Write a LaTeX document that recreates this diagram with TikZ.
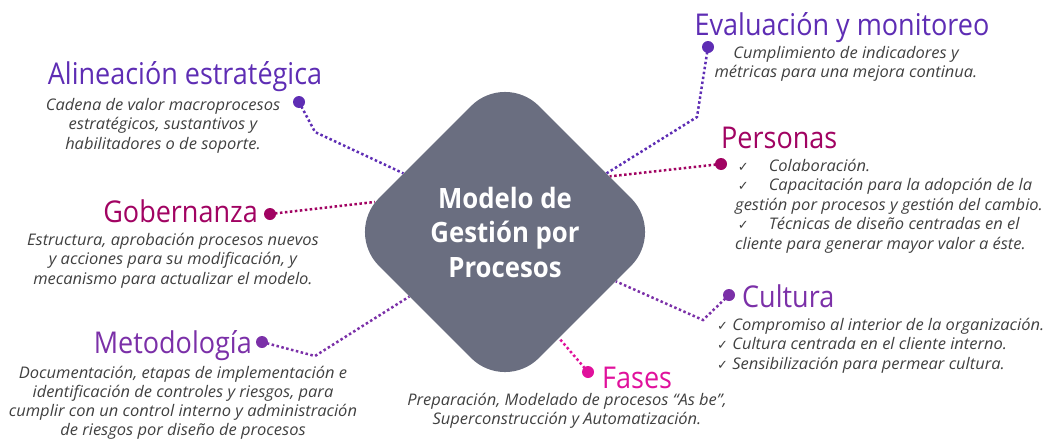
\documentclass[tikz,border=0pt]{standalone}
\usepackage{fontspec}
\usetikzlibrary{shapes.geometric}
\setmainfont{Open Sans}
\newfontfamily\titlefont[FakeStretch=0.9]{Open Sans}
\newfontfamily\descfont[FakeStretch=1.03]{Open Sans}
\newfontfamily\ctrfont[FakeStretch=0.92]{Open Sans}
\newfontfamily\ckfont{DejaVu Sans}
\definecolor{cviolet}{HTML}{5E2DB4}
\definecolor{ccrimson}{HTML}{A10362}
\definecolor{cpurple}{HTML}{7B30A8}
\definecolor{cpink}{HTML}{E0119C}
\definecolor{cgray}{HTML}{6A6E80}
\definecolor{cdesc}{HTML}{404040}
\newcommand\fl{\rule{0pt}{13pt}}
\newcommand\ck{{\ckfont\upshape\fontsize{13}{13}\selectfont ✓}}
\pgfdeclarelayer{bg}
\pgfsetlayers{bg,main}
\begin{document}
\begin{tikzpicture}[x=1pt,y=-1pt,
  ttl/.style={font=\titlefont\fontsize{30}{36}\selectfont, inner sep=0},
  desc/.style={font=\descfont\itshape\fontsize{16}{19.5}\selectfont, text=cdesc, inner sep=0, align=center, anchor=north},
  dot/.style={circle, fill, inner sep=0, minimum size=12pt},
  conn/.style={line width=2.5pt, dash pattern=on 2.5pt off 2.5pt},
  hub/.style={diamond, aspect=1, minimum width=320pt, minimum height=320pt, inner sep=0,
    rounded corners=48pt, fill=cgray, text=white, align=center,
    font=\ctrfont\bfseries\fontsize{28}{34.5}\selectfont}]
\useasboundingbox (0,0) rectangle (1050,442);

% hub
\node[hub] (diam) at (505,232) {Modelo de\\Gestión por\\Procesos};

% titles
\node[ttl, text=cviolet, anchor=base] (tA) at (185,84) {Alineación estratégica};
\node[ttl, text=ccrimson, anchor=base east] (tG) at (258,222) {Gobernanza};
\node[ttl, text=cpurple, anchor=base east] (tM) at (252,353) {Metodología};
\node[ttl, text=cpink, anchor=base west] (tF) at (602,388) {Fases};
\node[ttl, text=cpurple, anchor=base west] (tC) at (742,307) {Cultura};
\node[ttl, text=ccrimson, anchor=base west] (tP) at (721,148) {Personas};
\node[ttl, text=cviolet, anchor=base] (tE) at (842,35) {Evaluación y monitoreo};

% descriptions
\node[desc] (dA) at (163,97) {\fl Cadena de valor macroprocesos\\estratégicos, sustantivos y\\habilitadores o de soporte.};
\node[desc] (dG) at (173,232) {\fl Estructura, aprobación procesos nuevos\\y acciones para su modificación, y\\mecanismo para actualizar el modelo.};
\node[desc, font=\descfont\itshape\fontsize{16}{19.2}\selectfont] (dM) at (183,365) {\fl Documentación, etapas de implementación e\\identificación de controles y riesgos, para\\cumplir con un control interno y administración\\de riesgos por diseño de procesos};
\node[desc] (dF) at (567,392) {\fl Preparación, Modelado de procesos “As be”,\\Superconstrucción y Automatización.};
\node[desc] (dE) at (846,45) {\fl Cumplimiento de indicadores y\\métricas para una mejora continua.};
\node[desc, align=left, anchor=north west] (dP) at (735,158) {\fl\,\ck\hspace{20pt}Colaboración.\\\,\ck\hspace{20pt}Capacitación para la adopción de la\\gestión por procesos y gestión del cambio.\\\,\ck\hspace{20pt}Técnicas de diseño centradas en el\\cliente para generar mayor valor a éste.};
\node[desc, align=left, anchor=north west] (dC) at (717,317) {\fl\ck\ Compromiso al interior de la organización.\\\ck\ Cultura centrada en el cliente interno.\\\ck\ Sensibilización para permear cultura.};

% dots
\node[dot, cviolet] (pA) at (299,102) {};
\node[dot, ccrimson] (pG) at (270,214) {};
\node[dot, cpurple] (pM) at (262,342) {};
\node[dot, cpink] (pF) at (588,372) {};
\node[dot, cpurple] (pC) at (729,295) {};
\node[dot, ccrimson] (pP) at (721,164) {};
\node[dot, cviolet] (pE) at (708,47) {};

\coordinate (bA) at (315,132);
\coordinate (bM) at (315,356);
\coordinate (bC) at (703,320);
\coordinate (bE) at (697,117);

\begin{pgfonlayer}{bg}
\draw[conn, cviolet] (pA.center) -- (bA) -- (diam.150.7);
\draw[conn, ccrimson] (pG.center) -- (diam.167.7);
\draw[conn, cpurple] (pM.center) -- (bM) -- (diam.214);
\draw[conn, cpink] (pF.center) -- (diam.297.6);
\draw[conn, cpurple] (pC.center) -- (bC) -- (diam.336);
\draw[conn, ccrimson] (pP.center) -- (diam.28.5);
\draw[conn, cviolet] (pE.center) -- (bE) -- (diam.30.5);
\end{pgfonlayer}
\end{tikzpicture}
\end{document}
